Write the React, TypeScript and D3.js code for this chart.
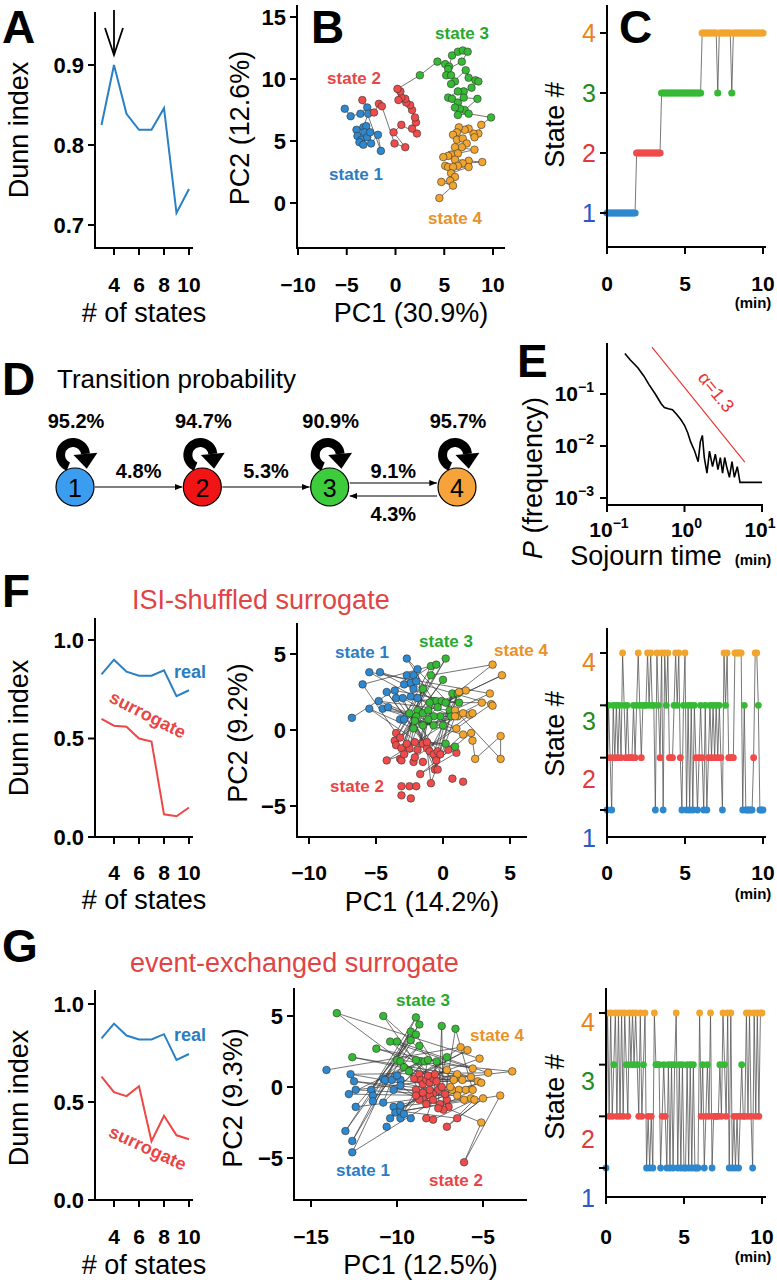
import React from 'react';
import * as d3 from 'd3';

const SANS = '"Liberation Sans", Arial, Helvetica, sans-serif';
const BIN_MIN = 0.1; // minutes per time bin

// ---------------- data ----------------
const nStates = [3, 4, 5, 6, 7, 8, 9, 10];
const dunnReal = [0.825, 0.9, 0.839, 0.819, 0.819, 0.846, 0.715, 0.745];
const dunnIsiSurrogate = [0.6, 0.565, 0.56, 0.5, 0.485, 0.115, 0.105, 0.15];
const dunnEventSurrogate = [0.63, 0.55, 0.53, 0.58, 0.3, 0.43, 0.33, 0.31];
const nStateTicks = [4, 6, 8, 10];
const dunnTicksA = [0.7, 0.8, 0.9];
const dunnTicksFG = [0, 0.5, 1];

// Panel B: PCA (PC1, PC2) of each time bin, per state
const bState1 = [[-5.2, 7.6], [-4.6, 7.0], [-3.6, 7.2], [-2.9, 7.7], [-2.8, 7.2], [-3.3, 6.1], [-4.0, 5.9], [-3.0, 6.2], [-3.2, 5.7], [-3.9, 5.4], [-3.5, 5.1], [-2.9, 5.3], [-2.6, 5.7], [-3.7, 4.9], [-3.3, 4.7], [-2.5, 4.8], [-1.8, 5.5], [-1.5, 4.2]];
const bState2 = [[-3.4, 8.3], [-2.2, 7.3], [-1.7, 8.0], [-1.4, 7.8], [-0.1, 4.8], [1.0, 4.5], [-0.2, 5.7], [0.6, 6.3], [2.2, 5.6], [1.7, 6.0], [2.1, 6.5], [2.0, 6.9], [1.7, 7.5], [1.5, 7.9], [1.1, 8.1], [1.0, 8.4], [0.6, 8.5], [0.3, 8.3], [0.5, 9.0], [0.2, 9.2]];
const bState3 = [[2.5, 10.3], [4.3, 11.4], [5.1, 11.2], [5.5, 11.0], [5.8, 11.9], [6.4, 12.2], [6.9, 12.3], [7.4, 12.2], [6.8, 11.4], [5.4, 10.8], [5.2, 10.3], [5.7, 10.3], [6.1, 9.8], [5.7, 9.6], [7.2, 10.7], [7.5, 10.1], [8.2, 9.9], [8.5, 9.8], [7.8, 9.3], [7.0, 9.0], [6.4, 9.0], [5.4, 8.5], [5.8, 8.4], [6.4, 8.1], [7.0, 8.5], [8.4, 8.4], [7.1, 7.5], [6.6, 7.6], [6.1, 7.7], [6.4, 7.1], [7.5, 7.2], [9.8, 6.9]];
const bState4 = [[8.8, 6.3], [8.5, 5.6], [8.0, 5.6], [8.1, 5.3], [7.5, 6.0], [7.1, 5.9], [6.5, 6.1], [6.3, 5.7], [5.9, 5.5], [6.3, 5.1], [6.9, 5.2], [7.3, 4.8], [6.8, 4.5], [6.1, 4.5], [8.1, 4.3], [6.4, 4.0], [5.7, 3.9], [5.4, 3.8], [4.9, 3.7], [6.1, 3.5], [7.5, 3.4], [8.9, 3.3], [6.9, 3.2], [6.4, 3.0], [5.1, 3.0], [5.4, 2.9], [5.9, 2.9], [7.5, 2.9], [5.7, 2.4], [6.1, 2.1], [5.6, 1.8], [4.7, 1.7], [5.9, 1.4], [4.5, 0.4]];
const bXTicks = [-10, -5, 0, 5, 10];
const bYTicks = [0, 5, 10, 15];

// Panel C: state sequence as runs [state, number of bins]
const cRuns = [[1, 19], [2, 16], [3, 26], [4, 10], [3, 1], [4, 8], [3, 1], [4, 20]];
const timeTicks = [0, 5, 10];
const stateTicks = [1, 2, 3, 4];

// Panel D
const nodeNames = ['1', '2', '3', '4'];
const selfProb = ['95.2%', '94.7%', '90.9%', '95.7%'];
const transFrom = [0, 1, 2, 3];
const transTo = [1, 2, 3, 2];
const transLabel = ['4.8%', '5.3%', '9.1%', '4.3%'];

// Panel E: sojourn time distribution
const sojournT = [0.17, 0.2, 0.25, 0.3, 0.35, 0.42, 0.5, 0.55, 0.62, 0.7, 0.8, 0.9, 1.0, 1.1, 1.2, 1.35, 1.5, 1.6, 1.7, 1.8, 1.95, 2.1, 2.3, 2.5, 2.7, 2.9, 3.1, 3.3, 3.5, 3.8, 4.1, 4.4, 4.8, 5.2, 6, 8, 10];
const sojournP = [0.6, 0.45, 0.32, 0.22, 0.15, 0.1, 0.065, 0.055, 0.052, 0.05, 0.04, 0.032, 0.025, 0.018, 0.012, 0.008, 0.005, 0.012, 0.016, 0.006, 0.003, 0.008, 0.004, 0.007, 0.0035, 0.006, 0.003, 0.006, 0.004, 0.0025, 0.005, 0.0025, 0.004, 0.002, 0.002, 0.002, 0.002];
const powerLawT = [0.38, 6.0];
const powerLawP = [0.8, 0.0049];
const eXTicks = [0.1, 1, 10];
const eXExp = ['\u22121', '0', '1'];
const eYTicks = [0.1, 0.01, 0.001];
const eYExp = ['\u22121', '\u22122', '\u22123'];

// Panel F: ISI-shuffled surrogate
const fState1 = [[-6.8, 0.8], [-6.0, 3.0], [-5.5, 3.8], [-4.7, 3.8], [-5.5, 1.4], [-4.8, 1.9], [-4.5, 1.4], [-4.1, 1.5], [-4.2, 2.5], [-3.6, 2.6], [-3.5, 2.1], [-3.0, 2.1], [-2.7, 4.7], [-2.7, 3.6], [-2.9, 3.0], [-2.4, 3.1], [-2.2, 2.7], [-1.9, 4.0], [-2.4, 2.2], [-1.9, 2.1], [-3.2, 0.7], [-2.9, 0.7], [-2.2, 3.6], [-2.0, 3.2]];
const fState2 = [[-3.5, -0.2], [-3.6, -0.7], [-3.5, -1.0], [-3.2, -0.5], [-3.1, -1.2], [-3.2, -1.9], [-3.1, -2.0], [-2.9, -1.6], [-2.5, -1.2], [-2.2, -2.1], [-2.1, -1.8], [-4.2, -2.0], [-1.9, -1.3], [-1.5, -0.9], [-1.2, -1.2], [-1.0, -1.4], [-0.7, -1.6], [-0.4, -1.4], [-1.2, -0.8], [-2.1, -0.8], [-0.5, -2.0], [-0.6, -2.6], [-0.4, -2.6], [-0.2, -1.6], [0.4, -1.3], [1.0, -1.5], [-1.7, -2.9], [-0.9, -3.5], [-2.5, -3.7], [-2.0, -3.7], [-3.1, -3.7], [-3.1, -4.3], [-2.4, -4.5], [0.7, -3.2], [1.5, -3.4], [-1.5, -2.1], [-2.7, -0.9]];
const fState3 = [[-0.9, 4.2], [-0.5, 4.3], [0.2, 4.7], [0.0, 3.3], [-0.9, 3.6], [-1.5, 2.7], [-1.9, 1.3], [-1.5, 1.1], [-1.1, 1.3], [-0.7, 1.9], [-0.5, 1.9], [-0.1, 1.9], [0.2, 1.8], [0.5, 1.3], [0.6, 0.9], [-0.2, 0.9], [-0.7, 0.9], [-1.1, 0.7], [-1.5, 0.3], [-2.2, 0.1], [-2.0, 0.9], [-0.7, 0.3], [0.0, 0.3], [0.7, 2.4], [1.2, 1.8], [0.2, -0.9], [0.9, -1.1], [1.1, 2.4], [-2.5, 1.1], [-2.1, 0.6], [-0.4, 1.5], [-1.0, 1.8]];
const fState4 = [[3.7, 4.3], [4.4, 3.6], [1.7, 2.6], [1.2, 2.5], [3.5, 2.4], [3.6, 1.7], [0.9, 1.3], [1.1, 0.9], [1.5, 1.1], [2.0, 1.0], [2.2, 1.1], [1.0, 0.1], [1.5, -0.3], [2.1, -0.2], [2.2, -0.7], [2.4, -1.9], [4.3, -0.4], [4.3, -1.9], [0.9, 0.9], [2.9, 1.8], [3.7, 1.6]];
const fSeq = [1, 3, 2, 1, 3, 2, 3, 2, 3, 2, 4, 3, 2, 3, 2, 2, 2, 3, 2, 3, 4, 3, 2, 3, 3, 3, 4, 3, 4, 3, 3, 1, 4, 3, 2, 4, 1, 4, 3, 4, 2, 2, 2, 3, 4, 3, 4, 2, 1, 3, 4, 1, 3, 1, 3, 1, 3, 2, 1, 2, 3, 2, 1, 3, 1, 2, 3, 2, 3, 2, 3, 2, 3, 2, 1, 4, 3, 4, 2, 2, 2, 2, 4, 4, 4, 4, 4, 1, 3, 1, 1, 1, 1, 1, 2, 4, 4, 3, 1, 1, 1];
const fXTicks = [-10, -5, 0, 5];
const fgYTicks = [-5, 0, 5];

// Panel G: event-exchanged surrogate
const gState1 = [[-14.1, 1.2], [-12.7, 0.9], [-12.5, 0.4], [-12.4, -0.2], [-12.8, -0.5], [-12.4, -1.4], [-13.0, -3.1], [-12.6, -3.8], [-12.6, -4.6], [-11.5, -0.2], [-11.4, -0.6], [-11.4, -1.0], [-10.8, 0.6], [-10.7, 0.5], [-10.8, -1.1], [-10.3, 0.5], [-9.8, 0.5], [-9.8, 0.1], [-10.2, -0.2], [-10.2, -1.4], [-10.1, -1.8], [-10.4, -2.2], [-9.8, -2.2], [-9.8, -1.7], [-9.6, -1.9], [-9.2, -2.2], [-10.6, -2.8], [-9.8, -1.3], [-10.0, 0.8]];
const gState2 = [[-9.0, 0.6], [-8.7, 0.9], [-8.6, 0.5], [-8.5, 0.2], [-8.3, 0.5], [-8.1, 0.3], [-7.9, 0.6], [-7.7, 0.4], [-7.6, -0.2], [-7.9, -0.5], [-8.1, -0.6], [-8.5, -0.8], [-8.7, -0.9], [-8.3, -1.2], [-7.9, -0.9], [-7.5, -1.2], [-7.1, -0.9], [-7.0, -1.4], [-7.3, -1.6], [-7.6, -1.5], [-7.2, -0.5], [-8.1, -0.2], [-8.5, -0.4], [-8.9, -0.2], [-8.3, -2.2], [-7.9, -2.3], [-7.1, -2.8], [-6.5, -2.2], [-6.1, -5.3], [-8.9, -0.6], [-7.4, 0.0], [-7.8, 0.9], [-8.2, 0.8]];
const gState3 = [[-13.5, 5.2], [-10.8, 5.0], [-12.6, 2.1], [-11.2, 2.7], [-10.4, 3.2], [-10.0, 3.2], [-10.0, 1.9], [-9.8, 1.8], [-9.6, 1.4], [-9.3, 1.1], [-9.2, 3.3], [-9.2, 3.9], [-8.9, 3.7], [-8.9, 4.9], [-8.7, 4.4], [-8.7, 2.9], [-8.6, 1.8], [-8.4, 1.8], [-8.2, 1.9], [-7.7, 1.8], [-7.4, 4.3], [-6.6, 4.1], [-7.1, 2.1], [-8.9, 1.9]];
const gState4 = [[-6.3, 2.8], [-5.9, 2.6], [-5.2, 2.0], [-7.1, 1.2], [-6.5, 0.9], [-6.7, 0.5], [-6.2, 0.5], [-5.7, 0.7], [-5.6, 1.3], [-5.3, 0.4], [-4.7, 1.0], [-3.3, 1.1], [-6.8, -0.2], [-6.4, -0.2], [-6.0, -0.2], [-5.6, -0.2], [-5.1, 0.3], [-5.7, -0.8], [-5.5, -0.9], [-5.0, -0.8], [-4.0, -0.6], [-5.1, -2.5], [-6.5, -0.6], [-6.1, -0.9], [-6.9, 0.0]];
const gSeq = [1, 4, 2, 4, 2, 3, 4, 2, 4, 2, 4, 2, 4, 3, 2, 4, 3, 4, 3, 4, 3, 2, 4, 2, 3, 4, 1, 2, 1, 2, 1, 4, 3, 3, 3, 1, 2, 3, 2, 1, 3, 1, 3, 1, 3, 4, 1, 3, 1, 3, 1, 1, 3, 1, 3, 1, 3, 1, 1, 1, 4, 2, 3, 1, 2, 3, 2, 4, 1, 2, 2, 2, 2, 3, 2, 4, 3, 2, 4, 1, 4, 1, 2, 1, 2, 1, 2, 3, 2, 2, 4, 2, 4, 2, 1, 4, 2, 4, 2, 4, 4];
const gXTicks = [-15, -10, -5];

// ---------------- styles ----------------
const DOT = { 1: '#2d88cf', 2: '#f04b4b', 3: '#36ba36', 4: '#f2a52e' } as any;
const TXT = { 1: '#2a7dc2', 2: '#e84646', 3: '#2aa82a', 4: '#e8922a' } as any;
const TICKCOL = { 1: '#2a58c6', 2: '#e23a3a', 3: '#1f8c1f', 4: '#e8841c' } as any;
const LINE_BLUE = '#2a80c4';
const LINE_RED = '#ef4646';
const AXW = 2;
const TL = 7;
const fmtNum = (v: number) => (v < 0 ? '\u2212' + Math.abs(v) : String(v));

function Letter({ x, y, t }: any) {
  return <text x={x} y={y} fontSize={46} fontWeight="bold">{t}</text>;
}

function AxisL({ x, top, bottom, right }: any) {
  return <path d={`M${x},${top}V${bottom}H${right}`} fill="none" stroke="#000" strokeWidth={AXW} />;
}

function YTicks({ x, scale, ticks, labels, labelY, fontSize = 22, bold = true, colors }: any) {
  return (
    <g>
      {ticks.map((t: number, i: number) => (
        <line key={'t' + i} x1={x - TL} x2={x} y1={scale(t)} y2={scale(t)} stroke="#000" strokeWidth={AXW} />
      ))}
      {ticks.map((t: number, i: number) => (
        <text key={'l' + i} x={x - TL - 4} y={labelY ? labelY(t) : scale(t)} textAnchor="end" dominantBaseline="central"
          fontSize={fontSize} fontWeight={bold ? 'bold' : 'normal'} fill={colors ? colors[i] : '#000'}>{labels[i]}</text>
      ))}
    </g>
  );
}

function XTicks({ y, scale, ticks, labels, labelY, fontSize = 21 }: any) {
  return (
    <g>
      {ticks.map((t: number, i: number) => (
        <line key={'t' + i} x1={scale(t)} x2={scale(t)} y1={y} y2={y + TL} stroke="#000" strokeWidth={AXW} />
      ))}
      {ticks.map((t: number, i: number) => (
        <text key={'l' + i} x={scale(t)} y={labelY} textAnchor="middle" dominantBaseline="central"
          fontSize={fontSize} fontWeight="bold">{labels[i]}</text>
      ))}
    </g>
  );
}

function VText({ x, y, children, size = 27, fill = '#000' }: any) {
  return (
    <text transform={`translate(${x},${y}) rotate(-90)`} textAnchor="middle" dominantBaseline="central" fontSize={size} fill={fill}>{children}</text>
  );
}

const xStates = d3.scaleLinear().domain([4, 10]).range([114, 189]);

function DunnPanel({ yScale, top, bottom, ticks, tickLabels, series, xLabelY, titleY, yTitleY, children }: any) {
  const axX = 95;
  return (
    <g>
      <AxisL x={axX} top={top} bottom={bottom} right={193} />
      <YTicks x={axX} scale={yScale} ticks={ticks} labels={tickLabels} />
      <XTicks y={bottom} scale={xStates} ticks={nStateTicks} labels={nStateTicks.map(String)} labelY={xLabelY} />
      {series.map((s: any, k: number) => {
        const line = d3.line<number>().x((_, i) => xStates(nStates[i])).y((d) => yScale(d));
        return <path key={k} d={line(s.values) || ''} fill="none" stroke={s.color} strokeWidth={2} />;
      })}
      <text x={144} y={titleY} textAnchor="middle" dominantBaseline="central" fontSize={27}># of states</text>
      <VText x={19} y={yTitleY}>Dunn index</VText>
      {children}
    </g>
  );
}

function ScatterPanel({ pts, order, xScale, yScale, axX, top, bottom, right, xTicks, yTicks, xLabelY, xTitle, xTitleY, yTitle, yTitleX, yTitleY, labels }: any) {
  const pathPts = order.map(([s, i]: any) => pts[s - 1][i]);
  const line = d3.line<any>().x((d) => xScale(d[0])).y((d) => yScale(d[1]));
  return (
    <g>
      <path d={line(pathPts) || ''} fill="none" stroke="#3a3a3a" strokeWidth={0.7} />
      {pts.map((arr: any, s: number) =>
        arr.map((d: any, i: number) => (
          <circle key={s + '-' + i} cx={xScale(d[0])} cy={yScale(d[1])} r={3.8} fill={DOT[s + 1]} stroke="#333" strokeWidth={0.6} />
        ))
      )}
      <AxisL x={axX} top={top} bottom={bottom} right={right} />
      <YTicks x={axX} scale={yScale} ticks={yTicks} labels={yTicks.map(fmtNum)} />
      <XTicks y={bottom} scale={xScale} ticks={xTicks} labels={xTicks.map(fmtNum)} labelY={xLabelY} />
      <text x={(axX + right) / 2 + 10} y={xTitleY} textAnchor="middle" dominantBaseline="central" fontSize={27}>{xTitle}</text>
      <VText x={yTitleX} y={yTitleY}>{yTitle}</VText>
      {labels.map((l: any, i: number) => (
        <text key={i} x={l[1]} y={l[2]} textAnchor="middle" dominantBaseline="central" fontSize={17} fontWeight="bold" fill={TXT[l[0]]}>{'state ' + l[0]}</text>
      ))}
    </g>
  );
}

function seqOrder(seq: number[], pts: any[]) {
  const cnt = [0, 0, 0, 0];
  return seq.map((s) => {
    const i = cnt[s - 1] % pts[s - 1].length;
    cnt[s - 1]++;
    return [s, i];
  });
}

function StatePanel({ seq, xScale, yScale, labelY, top, bottom, right, xLabelY, minY, titleY, dotR = 3.4 }: any) {
  const axX = xScale(0);
  const line = d3.line<number>().x((_, i) => xScale(i * BIN_MIN)).y((d) => yScale(d));
  return (
    <g>
      <path d={line(seq) || ''} fill="none" stroke="#555" strokeWidth={0.8} />
      {seq.map((s: number, i: number) => (
        <circle key={i} cx={xScale(i * BIN_MIN)} cy={yScale(s)} r={dotR} fill={DOT[s]} />
      ))}
      <AxisL x={axX} top={top} bottom={bottom} right={right} />
      <YTicks x={axX} scale={yScale} ticks={stateTicks} labels={stateTicks.map(String)} labelY={labelY} bold={false} fontSize={25}
        colors={stateTicks.map((s) => TICKCOL[s])} />
      <XTicks y={bottom} scale={xScale} ticks={timeTicks} labels={timeTicks.map(String)} labelY={xLabelY} />
      <text x={753} y={minY} textAnchor="middle" dominantBaseline="central" fontSize={15} fontWeight="bold">(min)</text>
      <VText x={555} y={titleY}>State #</VText>
    </g>
  );
}

function SelfLoop({ nx, ny }: any) {
  const cx = nx - 2;
  const cy = ny - 32;
  const r = 12.5;
  const a0 = (112 * Math.PI) / 180;
  const a1 = (355 * Math.PI) / 180;
  const p0 = [cx + r * Math.cos(a0), cy + r * Math.sin(a0)];
  const p1 = [cx + r * Math.cos(a1), cy + r * Math.sin(a1)];
  const tan = [-Math.sin(a1), Math.cos(a1)];
  const nrm = [Math.cos(a1), Math.sin(a1)];
  const hw = 12;
  const hl = 15;
  const tri = [
    [p1[0] + nrm[0] * hw, p1[1] + nrm[1] * hw],
    [p1[0] - nrm[0] * hw, p1[1] - nrm[1] * hw],
    [p1[0] + tan[0] * hl, p1[1] + tan[1] * hl],
  ];
  return (
    <g>
      <path d={`M${p0[0]},${p0[1]}A${r},${r} 0 1 1 ${p1[0]},${p1[1]}`} fill="none" stroke="#000" strokeWidth={9} />
      <polygon points={tri.map((p) => p.join(',')).join(' ')} fill="#000" />
    </g>
  );
}

export default function App() {
  // ---- A ----
  const yA = d3.scaleLinear().domain([0.7, 0.9]).range([225, 65]);
  // ---- B ----
  const xB = d3.scaleLinear().domain([-10, 10]).range([298, 493]);
  const yB = d3.scaleLinear().domain([0, 15]).range([203, 17]);
  const bPts = [bState1, bState2, bState3, bState4];
  const bOrder = bPts.flatMap((arr, s) => arr.map((_, i) => [s + 1, i]));
  // ---- C ----
  const cSeq = cRuns.flatMap(([s, n]) => Array.from({ length: n }, () => s));
  const xC = d3.scaleLinear().domain([0, 10]).range([607, 763]);
  const yC = d3.scaleLinear().domain([1, 4]).range([213, 33]);
  // ---- D ----
  const nodeX = d3.scalePoint<number>().domain([0, 1, 2, 3]).range([75, 457]);
  const nodeY = 487;
  const nodeR = 19;
  const nodeCol = ['#3a9df0', '#f01414', '#3ccc3c', '#f5a33a'];
  // ---- E ----
  const xE = d3.scaleLog().domain([0.1, 10]).range([607, 762]);
  const yE = d3.scaleLog().domain([0.001, 0.1]).range([498, 394]);
  const eLine = d3.line<number>().x((_, i) => xE(sojournT[i])).y((d) => yE(d));
  // ---- F ----
  const yDF = d3.scaleLinear().domain([0, 1]).range([837, 640]);
  const xF = d3.scaleLinear().domain([-10, 5]).range([309, 510]);
  const yF = d3.scaleLinear().domain([-5, 5]).range([806, 654]);
  const fPts = [fState1, fState2, fState3, fState4];
  const xSF = d3.scaleLinear().domain([0, 10]).range([607, 763]);
  const ySF = d3.scaleLinear().domain([1, 4]).range([810, 653]);
  const lySF = d3.scaleLinear().domain([1, 4]).range([838, 662]);
  // ---- G ----
  const yDG = d3.scaleLinear().domain([0, 1]).range([1200, 1004]);
  const xG = d3.scaleLinear().domain([-15, -5]).range([311, 483]);
  const yG = d3.scaleLinear().domain([-5, 5]).range([1158, 1016]);
  const gPts = [gState1, gState2, gState3, gState4];
  const xSG = d3.scaleLinear().domain([0, 10]).range([606, 762]);
  const ySG = d3.scaleLinear().domain([1, 4]).range([1168, 1013]);
  const lySG = d3.scaleLinear().domain([1, 4]).range([1198, 1022]);

  return (
    <svg width={777} height={1280} style={{ position: 'absolute', left: 0, top: 0 }} fontFamily={SANS}>
      <rect width={777} height={1280} fill="#fff" />

      {/* ---------- A ---------- */}
      <Letter x={2} y={43} t="A" />
      <DunnPanel yScale={yA} top={12} bottom={248} ticks={dunnTicksA} tickLabels={dunnTicksA.map((v) => v.toFixed(1))}
        series={[{ values: dunnReal, color: LINE_BLUE }]} xLabelY={284} titleY={313} yTitleY={130}>
        <line x1={xStates(4)} x2={xStates(4)} y1={10} y2={55} stroke="#000" strokeWidth={1.8} />
        <path d={`M${xStates(4) - 9},${28}L${xStates(4)},${55}L${xStates(4) + 9},${28}`} fill="none" stroke="#000" strokeWidth={1.8} />
      </DunnPanel>

      {/* ---------- B ---------- */}
      <ScatterPanel pts={bPts} order={bOrder} xScale={xB} yScale={yB} axX={297} top={5} bottom={248} right={505}
        xTicks={bXTicks} yTicks={bYTicks} xLabelY={284} xTitle="PC1 (30.9%)" xTitleY={313}
        yTitle="PC2 (12.6%)" yTitleX={240} yTitleY={128}
        labels={[[3, 462, 33], [2, 354, 78], [1, 356, 174], [4, 455, 218]]} />
      <Letter x={311} y={43} t="B" />

      {/* ---------- C ---------- */}
      <StatePanel seq={cSeq} xScale={xC} yScale={yC} top={5} bottom={247} right={766} xLabelY={283} minY={302} titleY={125} dotR={3.6} />
      <Letter x={619} y={43} t="C" />

      {/* ---------- D ---------- */}
      <Letter x={2} y={395} t="D" />
      <text x={57} y={388} fontSize={26}>Transition probability</text>
      <defs>
        <marker id="arr" viewBox="0 0 10 10" refX={10} refY={5} markerWidth={7} markerHeight={7} orient="auto">
          <path d="M0,1L10,5L0,9z" fill="#000" />
        </marker>
      </defs>
      {transFrom.map((f, i) => {
        const t = transTo[i];
        const dir = t > f ? 1 : -1;
        const pair = transFrom.some((ff, j) => ff === t && transTo[j] === f);
        const yy = pair ? (dir > 0 ? nodeY - 4 : nodeY + 9) : nodeY;
        const x1 = nodeX(f)! + dir * (nodeR + 1);
        const x2 = nodeX(t)! - dir * (nodeR + 1);
        const lx = (nodeX(f)! + nodeX(t)!) / 2;
        const ly = dir > 0 ? nodeY - 16 : nodeY + 27;
        return (
          <g key={i}>
            <line x1={x1} x2={x2} y1={yy} y2={yy} stroke="#000" strokeWidth={1.1} markerEnd="url(#arr)" />
            <text x={lx} y={ly} textAnchor="middle" dominantBaseline="central" fontSize={20} fontWeight="bold">{transLabel[i]}</text>
          </g>
        );
      })}
      {nodeNames.map((n, i) => (
        <g key={n}>
          <SelfLoop nx={nodeX(i)} ny={nodeY} />
          <text x={nodeX(i)! + 1} y={421} textAnchor="middle" dominantBaseline="central" fontSize={20} fontWeight="bold">{selfProb[i]}</text>
          <circle cx={nodeX(i)} cy={nodeY} r={nodeR} fill={nodeCol[i]} stroke="#000" strokeWidth={1.2} />
          <text x={nodeX(i)} y={nodeY + 1} textAnchor="middle" dominantBaseline="central" fontSize={25}>{n}</text>
        </g>
      ))}

      {/* ---------- E ---------- */}
      <Letter x={517} y={377} t="E" />
      <path d={eLine(sojournP) || ''} fill="none" stroke="#000" strokeWidth={1.6} />
      <line x1={xE(powerLawT[0])} y1={yE(powerLawP[0])} x2={xE(powerLawT[1])} y2={yE(powerLawP[1])} stroke="#e83232" strokeWidth={1.1} />
      <text transform={`translate(716,392) rotate(51)`} textAnchor="middle" dominantBaseline="central" fontSize={18} fill="#e83232">{'\u03b1=1.3'}</text>
      <AxisL x={607} top={343} bottom={505} right={763} />
      {eYTicks.map((t, i) => (
        <g key={'ey' + i}>
          <line x1={607 - TL} x2={607} y1={yE(t)} y2={yE(t)} stroke="#000" strokeWidth={AXW} />
          <text x={601 - TL} y={yE(t) + 7} textAnchor="end" fontSize={21} fontWeight="bold">10<tspan dy={-9} fontSize={14}>{eYExp[i]}</tspan></text>
        </g>
      ))}
      {eXTicks.map((t, i) => (
        <g key={'ex' + i}>
          <line x1={xE(t)} x2={xE(t)} y1={505} y2={505 + TL} stroke="#000" strokeWidth={AXW} />
          <text x={Math.min(xE(t) + 2, 760)} y={537} textAnchor="middle" fontSize={21} fontWeight="bold">10<tspan dy={-9} fontSize={14}>{eXExp[i]}</tspan></text>
        </g>
      ))}
      <text x={646} y={565} textAnchor="middle" fontSize={27}>Sojourn time</text>
      <text x={753} y={565} textAnchor="middle" fontSize={15} fontWeight="bold">(min)</text>
      <text transform={`translate(533,478) rotate(-90)`} textAnchor="middle" dominantBaseline="central" fontSize={27}>
        <tspan fontStyle="italic">P</tspan> (frequency)
      </text>

      {/* ---------- F ---------- */}
      <Letter x={2} y={607} t="F" />
      <text x={132} y={600} dominantBaseline="central" fontSize={27} fill="#e04444">ISI-shuffled surrogate</text>
      <DunnPanel yScale={yDF} top={618} bottom={837} ticks={dunnTicksFG} tickLabels={dunnTicksFG.map((v) => v.toFixed(1))}
        series={[{ values: dunnReal, color: LINE_BLUE }, { values: dunnIsiSurrogate, color: LINE_RED }]}
        xLabelY={872} titleY={900} yTitleY={728}>
        <text x={190} y={yDF(0.84)} textAnchor="middle" dominantBaseline="central" fontSize={18} fontWeight="bold" fill={TXT[1]}>real</text>
        <text transform={`translate(${xStates(6.7)},${yDF(0.62)}) rotate(27)`} textAnchor="middle" dominantBaseline="central" fontSize={18} fontWeight="bold" fill={TXT[2]}>surrogate</text>
      </DunnPanel>
      <ScatterPanel pts={fPts} order={seqOrder(fSeq, fPts)} xScale={xF} yScale={yF} axX={297} top={623} bottom={837} right={527}
        xTicks={fXTicks} yTicks={fgYTicks} xLabelY={872} xTitle="PC1 (14.2%)" xTitleY={902}
        yTitle="PC2 (9.2%)" yTitleX={238} yTitleY={733}
        labels={[[1, 362, 652], [3, 446, 641], [4, 521, 650], [2, 357, 786]]} />
      <StatePanel seq={fSeq} xScale={xSF} yScale={ySF} labelY={lySF} top={628} bottom={837} right={766} xLabelY={872} minY={893} titleY={734} />

      {/* ---------- G ---------- */}
      <Letter x={2} y={962} t="G" />
      <text x={130} y={963} dominantBaseline="central" fontSize={27} fill="#e04444">event-exchanged surrogate</text>
      <DunnPanel yScale={yDG} top={990} bottom={1200} ticks={dunnTicksFG} tickLabels={dunnTicksFG.map((v) => v.toFixed(1))}
        series={[{ values: dunnReal, color: LINE_BLUE }, { values: dunnEventSurrogate, color: LINE_RED }]}
        xLabelY={1236} titleY={1265} yTitleY={1098}>
        <text x={190} y={yDG(0.84)} textAnchor="middle" dominantBaseline="central" fontSize={18} fontWeight="bold" fill={TXT[1]}>real</text>
        <text transform={`translate(${xStates(6.7)},${yDG(0.265)}) rotate(25)`} textAnchor="middle" dominantBaseline="central" fontSize={18} fontWeight="bold" fill={TXT[2]}>surrogate</text>
      </DunnPanel>
      <ScatterPanel pts={gPts} order={seqOrder(gSeq, gPts)} xScale={xG} yScale={yG} axX={294} top={988} bottom={1200} right={527}
        xTicks={gXTicks} yTicks={fgYTicks} xLabelY={1236} xTitle="PC1 (12.5%)" xTitleY={1265}
        yTitle="PC2 (9.3%)" yTitleX={233} yTitleY={1098}
        labels={[[3, 423, 1000], [4, 497, 1035], [1, 363, 1170], [2, 456, 1180]]} />
      <StatePanel seq={gSeq} xScale={xSG} yScale={ySG} labelY={lySG} top={988} bottom={1197} right={766} xLabelY={1236} minY={1256} titleY={1097} />
    </svg>
  );
}
